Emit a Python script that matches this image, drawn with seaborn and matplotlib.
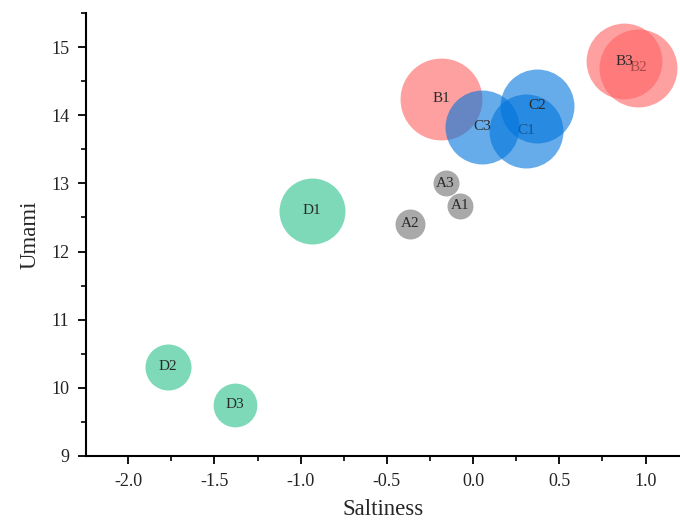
import pandas as pd
import seaborn as sns
from matplotlib import pyplot as plt
from matplotlib.ticker import MultipleLocator

# values
samples = ["A1", "A2", "A3", "B1", "B2", "B3", "C1", "C2", "C3", "D1", "D2", "D3"]
groups = ["A", "A", "A", "B", "B", "B", "C", "C", "C", "D", "D", "D"]
saltiness = [-0.075, -0.365, -0.16, -0.185, 0.957, 0.875, 0.307, 0.371, 0.052, -0.933, -1.77, -1.38]
umami = [12.67, 12.41, 13.00, 14.24, 14.70, 14.79, 13.77, 14.14, 13.83, 12.60, 10.31, 9.75]
intensity = [1.69, 2.25, 1.69, 16.8, 15.2, 14.4, 13.7, 13.7, 13.7, 10.9, 5.3, 4.8]

GROUP_COLORS = {
    "A": (113 / 255, 113 / 255, 113 / 255),
    "B": (255 / 255, 97 / 255, 97 / 255),
    "C": (0 / 255, 116 / 255, 220 / 255),
    "D": (38 / 255, 193 / 255, 138 / 255),
}
FONT = ["Liberation Serif", "DejaVu Serif"]

df = pd.DataFrame({
    "sample": samples,
    "group": groups,
    "Saltiness": saltiness,
    "Umami": umami,
    "intensity": intensity,
})

sns.set_theme(style="ticks")
plt.rcParams["font.family"] = FONT

fig = plt.figure(figsize=(6.8, 5.23), dpi=100)
ax = fig.add_axes([86 / 680, 67 / 523, 594 / 680, 443 / 523])

# area scale: intensity 1 -> ~207 pt^2
size_max = 20.0
for i in range(len(df)):
    row = df.iloc[[i]]
    sns.scatterplot(
        data=row, x="Saltiness", y="Umami", size="intensity",
        sizes=(0, size_max * 207), size_norm=(0, size_max),
        color=GROUP_COLORS[row["group"].iloc[0]], alpha=0.6,
        linewidth=0, legend=False, ax=ax, zorder=2 * i + 2,
    )
    ax.text(row["Saltiness"].iloc[0], row["Umami"].iloc[0], row["sample"].iloc[0],
            ha="center", va="center", fontsize=11, color="#2a2a2a",
            zorder=2 * i + 3)

ax.set_xlim(-2.245, 1.2)
ax.set_ylim(9, 15.5)
ax.xaxis.set_major_locator(MultipleLocator(0.5))
ax.xaxis.set_minor_locator(MultipleLocator(0.25))
ax.yaxis.set_major_locator(MultipleLocator(1))
ax.yaxis.set_minor_locator(MultipleLocator(0.5))
ax.xaxis.set_major_formatter(lambda v, pos: f"{v:.1f}")

ax.spines.top.set_visible(False)
ax.spines.right.set_visible(False)
for side in ["left", "bottom"]:
    ax.spines[side].set_linewidth(1.5)
    ax.spines[side].set_color("black")
ax.tick_params(axis="both", which="major", direction="out", length=6, width=1.3,
               labelsize=13, color="black", labelcolor="#222222", pad=6)
ax.tick_params(axis="both", which="minor", direction="out", length=3.5, width=1.2,
               color="black")

ax.set_xlabel("Saltiness", fontsize=16.5, labelpad=7)
ax.set_ylabel("Umami", fontsize=16.5, labelpad=8)

fig.savefig("out.png", dpi=100)
